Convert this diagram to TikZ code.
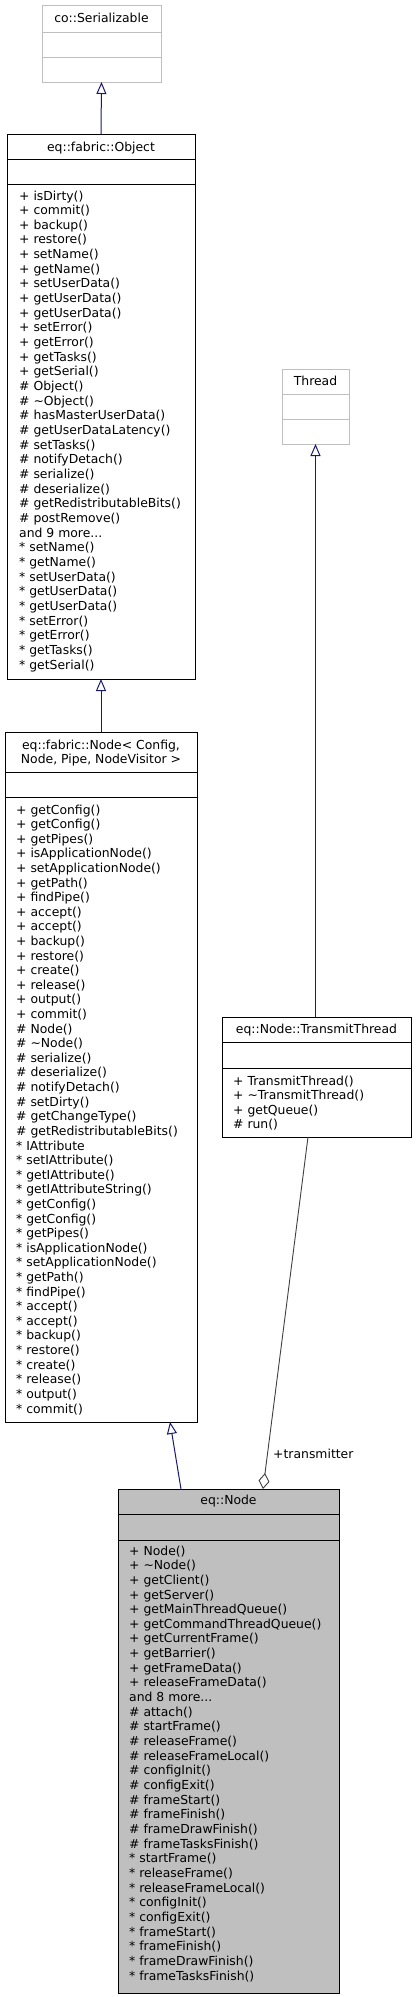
\documentclass[tikz,border=0pt]{standalone}
\usepackage{fontspec}
\setmainfont{DejaVu Sans}
\usetikzlibrary{arrows.meta}
\definecolor{extgray}{HTML}{BFBFBF}
\definecolor{inhblue}{HTML}{191970}
\definecolor{aggray}{HTML}{404040}
\newcommand{\tridots}{...}
\tikzset{
  classbox/.style={draw=black, line width=1pt, anchor=north west, inner sep=0pt, outer sep=0pt},
  extbox/.style={draw=extgray, line width=1pt, anchor=north west, inner sep=0pt, outer sep=0pt},
  divline/.style={line width=1pt},
  extdiv/.style={line width=1pt, draw=extgray},
  ttl/.style={anchor=base, inner sep=0pt, font=\fontsize{12.4}{14.66}\selectfont},
  mem/.style={anchor=base west, inner sep=0pt, font=\fontsize{12.4}{14.66}\selectfont},
  inh/.style={draw=inhblue, line width=1pt, -{Triangle[open, length=12pt, width=10pt, line width=1pt]}},
  agg/.style={draw=aggray, line width=0.9pt, -{Diamond[open, length=16pt, width=11pt, line width=0.9pt]}},
}
\begin{document}
\begin{tikzpicture}[x=1pt, y=-1pt]
\useasboundingbox[fill=white] (0,0) rectangle (415,1997);

% co::Serializable
\node[extbox, minimum width=119pt, minimum height=77pt] (ser) at (42,5) {};
\draw[extdiv] (42,32) -- (161,32);
\draw[extdiv] (42,57) -- (161,57);
\node[ttl] (ser-t) at (101.5,22) {co::Serializable};

% eq::fabric::Object
\node[classbox, minimum width=188pt, minimum height=545pt] (obj) at (7,134) {};
\draw[divline] (7,159) -- (195,159);
\draw[divline] (7,184) -- (195,184);
\node[ttl] (obj-t) at (101,151) {eq::fabric::Object};
\foreach \mtext [count=\i from 0] in {+ isDirty(), + commit(), + backup(), + restore(), + setName(), + getName(), + setUserData(), + getUserData(), + getUserData(), + setError(), + getError(), + getTasks(), + getSerial(), \# Object(), \# \textasciitilde{}Object(), \# hasMasterUserData(), \# getUserDataLatency(), \# setTasks(), \# notifyDetach(), \# serialize(), \# deserialize(), \# getRedistributableBits(), \# postRemove(), {and 9 more\tridots}, * setName(), * getName(), * setUserData(), * getUserData(), * getUserData(), * setError(), * getError(), * getTasks(), * getSerial()}
  \node[mem] (obj-m\i) at (19,{200+14.66*\i}) {\mtext};

% eq::fabric::Node<...>
\node[classbox, minimum width=192pt, minimum height=690pt] (fnode) at (5,732) {};
\draw[divline] (5,772) -- (197,772);
\draw[divline] (5,797) -- (197,797);
\node[ttl] (fnode-t1) at (101,749) {eq::fabric::Node< Config,};
\node[ttl] (fnode-t2) at (101,763.7) {Node, Pipe, NodeVisitor >};
\foreach \mtext [count=\i from 0] in {+ getConfig(), + getConfig(), + getPipes(), + isApplicationNode(), + setApplicationNode(), + getPath(), + findPipe(), + accept(), + accept(), + backup(), + restore(), + create(), + release(), + output(), + commit(), \# Node(), \# \textasciitilde{}Node(), \# serialize(), \# deserialize(), \# notifyDetach(), \# setDirty(), \# getChangeType(), \# getRedistributableBits(), * IAttribute, * setIAttribute(), * getIAttribute(), * getIAttributeString(), * getConfig(), * getConfig(), * getPipes(), * isApplicationNode(), * setApplicationNode(), * getPath(), * findPipe(), * accept(), * accept(), * backup(), * restore(), * create(), * release(), * output(), * commit()}
  \node[mem] (fnode-m\i) at (16,{814+14.61*\i}) {\mtext};

% Thread
\node[extbox, minimum width=67pt, minimum height=75pt] (thr) at (282,369) {};
\draw[extdiv] (282,394) -- (349,394);
\draw[extdiv] (282,419) -- (349,419);
\node[ttl] (thr-t) at (315.5,385) {Thread};

% eq::Node::TransmitThread
\node[classbox, minimum width=189pt, minimum height=120pt] (tt) at (222,1017) {};
\draw[divline] (222,1042) -- (411,1042);
\draw[divline] (222,1068) -- (411,1068);
\node[ttl] (tt-t) at (316.5,1033) {eq::Node::TransmitThread};
\foreach \mtext [count=\i from 0] in {+ TransmitThread(), + \textasciitilde{}TransmitThread(), + getQueue(), \# run()}
  \node[mem] (tt-m\i) at (233,{1085+14.5*\i}) {\mtext};

% eq::Node
\node[classbox, fill=extgray, minimum width=221pt, minimum height=504pt] (node) at (118,1489) {};
\draw[divline] (118,1514) -- (339,1514);
\draw[divline] (118,1540) -- (339,1540);
\node[ttl] (node-t) at (228.5,1504) {eq::Node};
\foreach \mtext [count=\i from 0] in {+ Node(), + \textasciitilde{}Node(), + getClient(), + getServer(), + getMainThreadQueue(), + getCommandThreadQueue(), + getCurrentFrame(), + getBarrier(), + getFrameData(), + releaseFrameData(), {and 8 more\tridots}, \# attach(), \# startFrame(), \# releaseFrame(), \# releaseFrameLocal(), \# configInit(), \# configExit(), \# frameStart(), \# frameFinish(), \# frameDrawFinish(), \# frameTasksFinish(), * startFrame(), * releaseFrame(), * releaseFrameLocal(), * configInit(), * configExit(), * frameStart(), * frameFinish(), * frameDrawFinish(), * frameTasksFinish()}
  \node[mem] (node-m\i) at (129,{1555+14.66*\i}) {\mtext};

% connectors
\draw[inh] (obj.north) -- (ser.south);
\draw[inh] (fnode.north) -- (obj.south);
\draw[inh] (tt.north -| thr.south) -- (thr.south);
\draw[inh] ([xshift=63pt]node.north west) -- ([xshift=165pt]fnode.south west);
\draw[agg] ([xshift=86pt]tt.south west) -- ([xshift=145pt]node.north west);
\node[mem] (agg-label) at (273,1458) {+transmitter};
\end{tikzpicture}
\end{document}
